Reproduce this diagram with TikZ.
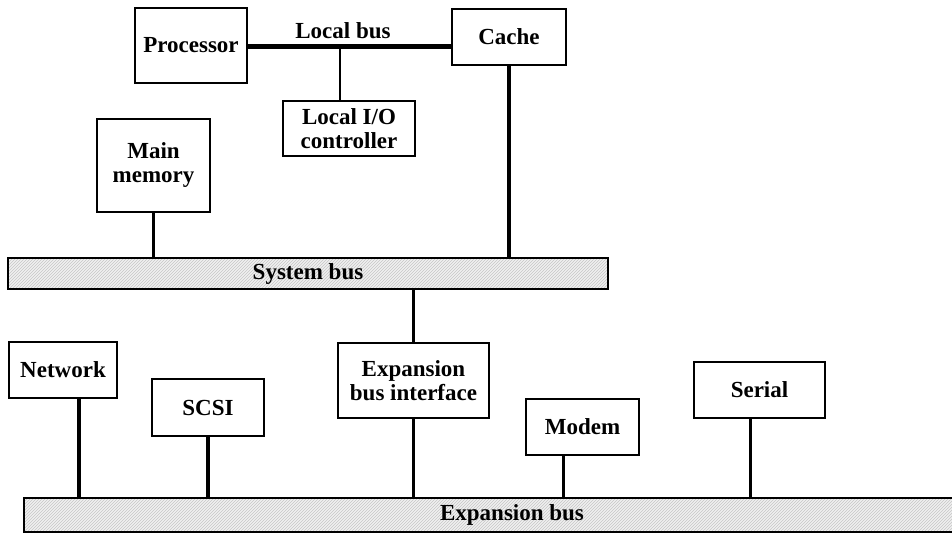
\documentclass[tikz,border=0pt]{standalone}
\usepackage{fontspec}
\setmainfont{Liberation Serif}
\usepackage{xcolor}
\usepackage{tikz}
\usetikzlibrary{patterns}
\usetikzlibrary{calc,positioning}

\tikzset{
    unit/.style={draw, line width=1.6pt, fill=white, inner sep=0pt, align=center,
        font=\fontsize{23}{24}\selectfont\bfseries},
    bus/.style={draw, line width=1.6pt, inner sep=0pt,
        preaction={fill=gray!12}, pattern=north east lines, pattern color=gray!45,
        font=\fontsize{23}{24}\selectfont\bfseries},
    link/.style={line width=3.2pt},
    thinlink/.style={line width=2pt}
}

\begin{document}
\begin{tikzpicture}[x=1pt,y=-1pt]

    \useasboundingbox (0,0) rectangle (952,535);
    \clip (0,0) rectangle (952,535);

    % Lokale kant
    \node[unit, minimum width=112pt, minimum height=75pt] (proc) at (191,45.5) {Processor};
    \node[unit, minimum width=114pt, minimum height=56pt] (cache) at (509,37) {Cache};
    \node[unit, minimum width=132pt, minimum height=55pt] (lio) at (349,128.5) {Local I/O\\controller};
    \node[unit, minimum width=113pt, minimum height=93pt] (mem) at (153.5,165.5) {Main\\memory};

    % Bussen
    \node[bus, minimum width=600pt, minimum height=31pt] (sysbus) at (308,273.5) {System bus};
    \node[bus, minimum width=976pt, minimum height=34pt] (expbus) at (512,515) {Expansion bus};

    % Uitbreiding
    \node[unit, minimum width=108pt, minimum height=56pt] (net) at (63,370) {Network};
    \node[unit, minimum width=112pt, minimum height=57pt] (scsi) at (208,407.5) {SCSI};
    \node[unit, minimum width=151pt, minimum height=75pt] (expif) at (413.5,380.5) {Expansion\\bus interface};
    \node[unit, minimum width=113pt, minimum height=56pt] (modem) at (582.5,427) {Modem};
    \node[unit, minimum width=131pt, minimum height=56pt] (serial) at (759.5,390) {Serial};

    % Local bus
    \draw[line width=5pt] ([yshift=-1.5pt]proc.east) -- ([yshift=-1.5pt]proc.east -| cache.west);
    \node[font=\fontsize{23}{24}\selectfont\bfseries] (lbus) at (343,31) {Local bus};
    \draw[thinlink] ([xshift=-9pt]lio.north) -- ([xshift=-9pt,yshift=-1.5pt]lio.north |- proc.east);

    % Naar de system bus
    \draw[link] (cache.south) -- (cache.south |- sysbus.north);
    \draw[link] (mem.south) -- (mem.south |- sysbus.north);
    \draw[link] (expif.north) -- (expif.north |- sysbus.south);

    % Naar de expansion bus
    \draw[link] ([xshift=16pt]net.south) -- ([xshift=16pt]net.south |- expbus.north);
    \draw[link] (scsi.south) -- (scsi.south |- expbus.north);
    \draw[link] (expif.south) -- (expif.south |- expbus.north);
    \draw[link] ([xshift=-19pt]modem.south) -- ([xshift=-19pt]modem.south |- expbus.north);
    \draw[link] ([xshift=-9pt]serial.south) -- ([xshift=-9pt]serial.south |- expbus.north);

\end{tikzpicture}
\end{document}
